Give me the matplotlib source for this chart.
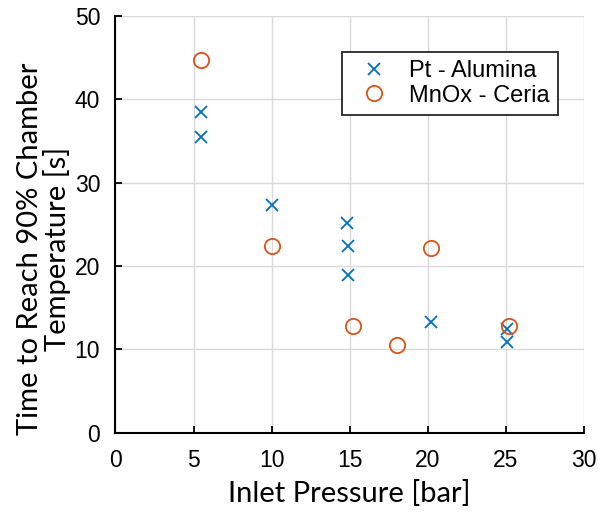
#!/usr/bin/env python3
"""Time to reach 90% chamber temperature versus inlet pressure."""

import matplotlib

matplotlib.use("Agg")
import matplotlib.pyplot as plt

# Pt - Alumina catalyst
pt_pressure = [5.5, 5.5, 10.0, 14.8, 14.9, 14.9, 20.2, 25.1, 25.1]
pt_time = [38.5, 35.4, 27.3, 25.1, 22.4, 18.9, 13.3, 12.5, 10.9]

# MnOx - Ceria catalyst
mn_pressure = [5.5, 10.0, 15.2, 18.0, 20.2, 25.2]
mn_time = [44.7, 22.4, 12.8, 10.5, 22.2, 12.8]

x_ticks = [0, 5, 10, 15, 20, 25, 30]
y_ticks = [0, 10, 20, 30, 40, 50]

BLUE = "#0072BD"
ORANGE = "#D95319"
TICK_FONT = "Liberation Sans"
LABEL_FONT = "Lato"
TICK_SIZE = 16.5

figure = plt.figure(figsize=(5.98, 5.14), dpi=100)
axis = figure.add_axes([0.193, 0.158, 0.7836, 0.8115])

axis.plot(pt_pressure, pt_time, linestyle="none", marker="x", markersize=9,
          markeredgewidth=1.3, color=BLUE, label="Pt - Alumina")
axis.plot(mn_pressure, mn_time, linestyle="none", marker="o", markersize=11,
          markeredgewidth=1.3, markerfacecolor="none", color=ORANGE,
          label="MnOx - Ceria")

axis.set_xlim(0, 30)
axis.set_ylim(0, 50)
axis.set_xticks(x_ticks)
axis.set_yticks(y_ticks)
axis.set_xticklabels([str(t) for t in x_ticks], fontfamily=TICK_FONT, fontsize=TICK_SIZE)
axis.set_yticklabels([str(t) for t in y_ticks], fontfamily=TICK_FONT, fontsize=TICK_SIZE)
axis.tick_params(direction="in", length=5, width=1.3)
axis.tick_params(axis="x", pad=12)
axis.tick_params(axis="y", pad=11)
axis.grid(True, color="#dadada", linewidth=1.0)
axis.set_axisbelow(True)

for side in ("top", "right"):
    axis.spines[side].set_visible(False)
for side in ("left", "bottom"):
    axis.spines[side].set_linewidth(1.5)

axis.set_xlabel("Inlet Pressure [bar]", fontfamily=LABEL_FONT, fontsize=21)
axis.set_ylabel("Time to Reach 90% Chamber\nTemperature [s]",
                fontfamily=LABEL_FONT, fontsize=21, linespacing=1.0)
axis.yaxis.set_label_coords(-0.095, 0.44)
axis.xaxis.set_label_coords(0.5, -0.112)

legend = axis.legend(loc="upper left", bbox_to_anchor=(0.483, 0.913),
                     borderaxespad=0, fancybox=False, framealpha=1,
                     edgecolor="#262626", handletextpad=0.5, borderpad=0.35,
                     labelspacing=0.1, prop={"family": TICK_FONT, "size": 17})
legend.get_frame().set_linewidth(1.3)

figure.savefig("out.png", dpi=100)
